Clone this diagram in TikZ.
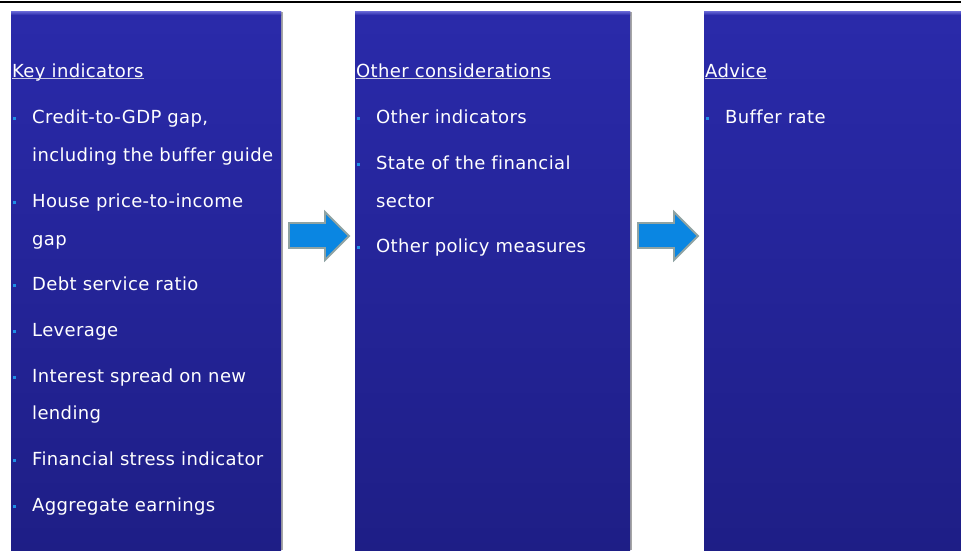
\documentclass[tikz,border=0pt]{standalone}
\usepackage{fontspec}
\setmainfont{DejaVu Sans}[LetterSpace=2,Ligatures=NoCommon]
\definecolor{panelTop}{HTML}{2A2AAA}
\definecolor{panelBot}{HTML}{1E1E86}
\definecolor{bevel}{HTML}{6A6AD8}
\definecolor{bulletc}{HTML}{1E8FE6}
\definecolor{arrowfill}{HTML}{0A86E2}
\definecolor{arrowedge}{HTML}{8FA3A3}
\definecolor{ulc}{HTML}{C8C8E0}
\tikzset{
  txt/.style={anchor=base west, inner sep=0pt, text=white, font=\fontsize{18}{21}\selectfont},
  hdr/.style={txt},
  ul/.style={draw=ulc, line width=1pt},
  bul/.style={fill=bulletc},
  blockarrow/.style={fill=arrowfill, draw=arrowedge, line width=1.8pt, line join=miter},
  shadowc/.style={fill=black!35},
}
\newcommand{\panel}[3]{%
  \fill[shadowc] (#1+1.5,12) rectangle (#2+2,550);
  \shade[top color=panelTop, bottom color=panelBot] (#1,11) rectangle (#2,550);
  \shade[top color=bevel, bottom color=panelTop] (#1,11) rectangle (#2,15);
  \node[inner sep=0pt, minimum width=0pt] (#3) at ({(#1+#2)/2},280) {};
}
\newcommand{\bulletsq}[2]{\fill[bul] (#1,#2-6.5) rectangle (#1+3,#2-3.5);}
\begin{document}
\begin{tikzpicture}[x=1pt,y=-1pt]
\useasboundingbox (0,0) rectangle (961,550);
\fill[white] (0,0) rectangle (961,550);
\fill[black] (0,0.5) rectangle (961,3);

\panel{11}{281}{p1}
\panel{355}{630}{p2}
\panel{704}{961}{p3}

% Panel 1
\node[hdr] (h1) at (12,77) {Key indicators};
\draw[ul] ([yshift=-1.5pt]h1.base west) -- ([yshift=-1.5pt]h1.base east);
\foreach \y/\t [count=\i] in {123/{Credit-to-GDP gap,},161/{including the buffer guide},207/{House price-to-income},245/{gap},290/{Debt service ratio},336/{Leverage},382/{Interest spread on new},419/{lending},465/{Financial stress indicator},511/{Aggregate earnings}}
  {\node[txt] (a\i) at (32,\y) {\t};}
\foreach \y in {123,207,290,336,382,465,511} {\bulletsq{13}{\y}}

% Panel 2
\node[hdr] (h2) at (356,77) {Other considerations};
\draw[ul] ([yshift=-1.5pt]h2.base west) -- ([yshift=-1.5pt]h2.base east);
\foreach \y/\t [count=\i] in {123/{Other indicators},169/{State of the financial},207/{sector},252/{Other policy measures}}
  {\node[txt] (b\i) at (376,\y) {\t};}
\foreach \y in {123,169,252} {\bulletsq{357}{\y}}

% Panel 3
\node[hdr] (h3) at (705,77) {Advice};
\draw[ul] ([yshift=-1.5pt]h3.base west) -- ([yshift=-1.5pt]h3.base east);
\node[txt] (c1) at (725,123) {Buffer rate};
\bulletsq{706}{123}

% Block arrows
\foreach \dx in {0,349}{
  \draw[blockarrow] (289+\dx,223) -- (325+\dx,223) -- (325+\dx,212) -- (349+\dx,236)
     -- (325+\dx,260) -- (325+\dx,248) -- (289+\dx,248) -- cycle;
}
\end{tikzpicture}
\end{document}
